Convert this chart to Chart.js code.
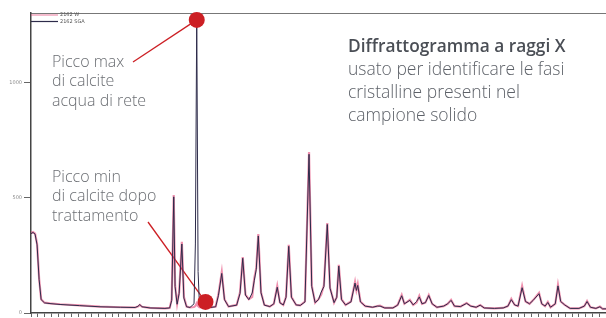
<!DOCTYPE html>
<html lang="it">
<head>
<meta charset="utf-8">
<title>Diffrattogramma a raggi X</title>
<script src="https://cdn.jsdelivr.net/npm/chart.js@4.4.1/dist/chart.umd.min.js"></script>
<style>
  html, body { margin: 0; padding: 0; background: #fff; }
  #wrap { width: 606px; height: 318px; }
</style>
</head>
<body>
<div id="wrap"><canvas id="xrd" width="606" height="318"></canvas></div>
<script>
'use strict';

/* ---------- dati (2θ in gradi, intensità in conteggi) ---------- */
const twoTheta = [
  5.0, 5.3, 5.6, 5.9, 6.2, 6.5, 7.0, 7.8, 9.3, 12.2,
  15.2, 18.2, 20.4, 20.8, 21.1, 21.4, 22.6, 24.8, 25.5, 25.8,
  26.1, 26.3, 26.6, 26.9, 27.3, 27.6, 28.0, 28.5, 29.1, 29.3,
  29.5, 29.7, 29.9, 30.7, 31.5, 32.3, 32.7, 33.2, 33.6, 34.2,
  35.4, 35.9, 36.3, 36.7, 37.2, 37.7, 38.0, 38.3, 38.6, 39.0,
  39.5, 40.3, 40.9, 41.4, 41.8, 42.3, 42.7, 43.1, 43.5, 44.2,
  44.8, 45.5, 46.1, 46.5, 47.0, 47.5, 47.9, 48.3, 48.8, 49.2,
  49.8, 50.2, 50.5, 50.9, 51.5, 52.3, 52.9, 53.1, 53.3, 53.7,
  54.4, 55.5, 56.2, 56.6, 57.3, 58.5, 59.2, 59.8, 60.2, 61.0,
  61.5, 62.0, 62.4, 62.8, 63.3, 63.8, 64.3, 65.0, 66.0, 66.6,
  67.1, 67.6, 68.5, 69.4, 70.0, 70.8, 71.4, 72.0, 73.5, 74.8,
  75.5, 76.0, 76.5, 77.0, 77.6, 78.1, 78.7, 79.2, 80.1, 80.5,
  81.0, 81.4, 81.8, 82.5, 82.9, 83.3, 83.9, 84.7, 86.0, 86.8,
  87.2, 87.7, 88.5, 89.1, 89.5, 90.0,
];

// campione dopo trattamento (rosa)
const intensityTreated = [
  348, 352, 345, 300, 150, 60, 45, 42, 38, 33,
  28, 25, 24, 28, 35, 27, 22, 20, 22, 60,
  513, 120, 40, 90, 309, 70, 28, 24, 26, 30,
  42, 30, 25, 22, 24, 28, 80, 178, 60, 28,
  35, 90, 243, 80, 60, 70, 150, 196, 343, 90,
  35, 28, 40, 117, 45, 35, 70, 296, 70, 35,
  33, 50, 700, 120, 45, 60, 80, 120, 391, 110,
  45, 70, 209, 60, 35, 50, 135, 100, 126, 50,
  30, 25, 30, 32, 22, 22, 35, 78, 40, 57,
  35, 45, 74, 40, 45, 78, 40, 25, 30, 40,
  57, 30, 28, 43, 30, 25, 35, 22, 20, 22,
  30, 61, 35, 30, 117, 50, 40, 55, 87, 40,
  30, 48, 25, 40, 122, 50, 35, 20, 20, 30,
  52, 25, 20, 28, 18, 18,
];

// acqua di rete (blu) — picco di calcite a 29.5°
const intensityTap = [
  345, 350, 343, 296, 145, 58, 44, 41, 37, 32,
  27, 25, 24, 29, 37, 27, 22, 20, 22, 55,
  505, 115, 38, 85, 300, 65, 27, 24, 40, 300,
  1291, 180, 35, 22, 24, 27, 75, 172, 58, 28,
  34, 85, 238, 78, 58, 87, 140, 190, 335, 88,
  34, 28, 40, 112, 44, 35, 68, 290, 68, 35,
  33, 48, 690, 115, 45, 58, 91, 115, 385, 108,
  45, 68, 204, 58, 35, 48, 130, 98, 120, 48,
  30, 25, 30, 30, 22, 22, 34, 75, 40, 55,
  35, 50, 70, 40, 45, 76, 40, 25, 30, 40,
  55, 30, 28, 42, 30, 25, 34, 22, 20, 22,
  30, 58, 35, 30, 110, 50, 40, 54, 84, 40,
  30, 46, 25, 40, 118, 50, 35, 20, 20, 30,
  50, 25, 20, 27, 18, 18,
];

const yTicks = [0, 500, 1000];
const seriesLabels = ['2162 W', '2162 SGA'];

// punti evidenziati (max / min di calcite)
const calloutX = [29.5, 30.8];
const calloutY = [1274, 48];
const calloutText = [
  ['Picco max', 'di calcite', 'acqua di rete'],
  ['Picco min', 'di calcite dopo', 'trattamento'],
];
const noteTitle = 'Diffrattogramma a raggi X';
const noteLines = ['usato per identificare le fasi', 'cristalline presenti nel', 'campione solido'];

const COLOR_PINK = 'rgba(228, 70, 120, 0.6)';
const COLOR_NAVY = '#2d2b4a';
const COLOR_DOT = '#cc1f24';
const COLOR_TEXT = '#6b6e73';

const toPoints = (xs, ys) => xs.map((x, i) => ({ x, y: ys[i] }));

/* testi, linee di richiamo e legenda in miniatura */
const overlay = {
  id: 'overlay',
  beforeDatasetsDraw(chart) {
    const { ctx, scales } = chart;
    const starts = [[133, 62], [148, 222]];
    ctx.save();
    ctx.strokeStyle = COLOR_DOT;
    ctx.lineWidth = 1.3;
    calloutX.forEach((v, i) => {
      ctx.beginPath();
      ctx.moveTo(starts[i][0], starts[i][1]);
      ctx.lineTo(scales.x.getPixelForValue(v), scales.y.getPixelForValue(calloutY[i]));
      ctx.stroke();
    });
    ctx.restore();
  },
  afterDraw(chart) {
    const { ctx, chartArea } = chart;
    ctx.save();
    ctx.textBaseline = 'middle';
    ctx.fillStyle = COLOR_TEXT;
    ctx.font = '300 16px "Open Sans", Lato, sans-serif';
    const tops = [62, 177];
    calloutText.forEach((lines, i) => {
      lines.forEach((t, j) => ctx.fillText(t, 52, tops[i] + j * 19.5));
    });

    ctx.fillStyle = '#4a4e55';
    ctx.font = '600 17.3px "Open Sans", Lato, sans-serif';
    ctx.fillText(noteTitle, 348, 47);
    ctx.fillStyle = '#5d6168';
    ctx.font = '300 17.5px "Open Sans", Lato, sans-serif';
    noteLines.forEach((t, j) => ctx.fillText(t, 348, 70 + j * 23));

    // legenda
    const cols = [COLOR_PINK, COLOR_NAVY];
    ctx.font = '5px "DejaVu Sans", sans-serif';
    seriesLabels.forEach((lab, i) => {
      const y = chartArea.top + 2 + i * 6.5;
      ctx.strokeStyle = cols[i];
      ctx.lineWidth = 1.2;
      ctx.beginPath();
      ctx.moveTo(chartArea.left, y);
      ctx.lineTo(chartArea.left + 27, y);
      ctx.stroke();
      ctx.fillStyle = '#555';
      ctx.fillText(lab, chartArea.left + 29, y);
    });
    ctx.restore();
  },
};

new Chart(document.getElementById('xrd'), {
  type: 'line',
  data: {
    datasets: [
      {
        label: 'callout',
        data: toPoints(calloutX, calloutY),
        showLine: false,
        pointRadius: 8,
        pointHoverRadius: 8,
        pointBackgroundColor: COLOR_DOT,
        pointBorderWidth: 0,
        clip: false,
        order: 0,
      },
      {
        label: seriesLabels[0],
        data: toPoints(twoTheta, intensityTreated),
        borderColor: COLOR_PINK,
        borderWidth: 2.2,
        pointRadius: 0,
        tension: 0,
        order: 2,
      },
      {
        label: seriesLabels[1],
        data: toPoints(twoTheta, intensityTap),
        borderColor: COLOR_NAVY,
        borderWidth: 1,
        pointRadius: 0,
        tension: 0,
        order: 1,
      },
    ],
  },
  options: {
    responsive: false,
    animation: false,
    events: [],
    layout: { padding: 0, autoPadding: false },
    plugins: { legend: { display: false }, tooltip: { enabled: false } },
    scales: {
      x: {
        type: 'linear',
        min: 5,
        max: 90,
        grid: { display: true, drawOnChartArea: false, drawTicks: true, tickLength: 4, color: '#666' },
        border: { color: '#444', width: 1.5 },
        ticks: { display: false, stepSize: 1, autoSkip: false, includeBounds: false },
        afterFit: (s) => { s.height = 5; },
      },
      xTop: {
        type: 'linear',
        position: 'top',
        min: 5,
        max: 90,
        grid: { display: false },
        border: { color: '#777', width: 1 },
        ticks: { display: false },
        afterFit: (s) => { s.height = 13; },
      },
      y: {
        min: 0,
        max: 1304,
        grid: { display: true, drawOnChartArea: false, drawTicks: true, tickLength: 7, color: '#666' },
        border: { color: '#444', width: 1.5 },
        afterBuildTicks: (s) => { s.ticks = yTicks.map((v) => ({ value: v })); },
        ticks: {
          padding: 2,
          color: '#8a8a8a',
          font: { size: 5, family: '"DejaVu Sans", sans-serif' },
          callback: (v) => String(v),
        },
        afterFit: (s) => { s.width = 31; },
      },
    },
  },
  plugins: [overlay],
});
</script>
</body>
</html>
